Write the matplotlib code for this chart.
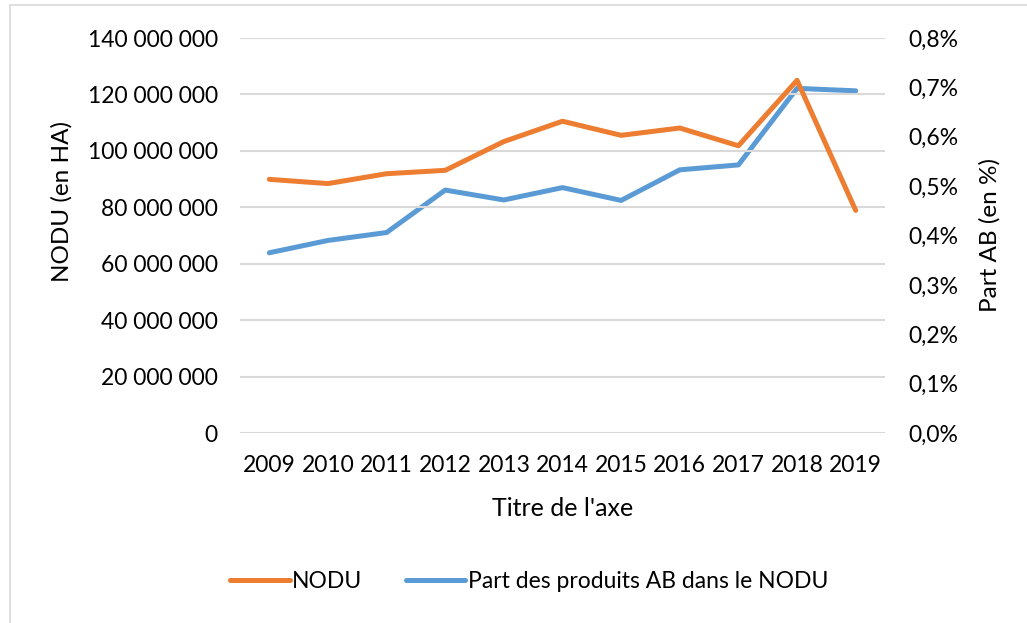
import matplotlib
matplotlib.use("Agg")
import matplotlib.pyplot as plt
from matplotlib.ticker import FuncFormatter, MultipleLocator
from matplotlib.lines import Line2D
from matplotlib.patches import Rectangle

years = ["2009", "2010", "2011", "2012", "2013", "2014", "2015", "2016", "2017", "2018", "2019"]
nodu = [89.9e6, 88.4e6, 91.9e6, 93.1e6, 103.3e6, 110.5e6, 105.5e6, 108.1e6, 101.8e6, 125.0e6, 78.9e6]
part_ab = [0.365, 0.390, 0.406, 0.492, 0.472, 0.497, 0.471, 0.533, 0.543, 0.698, 0.693]

orange = "#ED7D31"
blue = "#5B9BD5"
grid_c = "#D9D9D9"
txt_c = "#000000"

plt.rcParams['font.family'] = ['Lato', 'DejaVu Sans']

W, H = 1027, 623
fig = plt.figure(figsize=(W / 100, H / 100), dpi=100)
ax = fig.add_axes([240 / W, 1 - 433 / H, (885 - 240) / W, (433 - 38) / H])
ax2 = ax.twinx()

x = list(range(len(years)))
ax.plot(x, nodu, color=orange, lw=3.6, solid_capstyle='round', solid_joinstyle='round', zorder=3)
ax2.plot(x, part_ab, color=blue, lw=3.6, solid_capstyle='round', solid_joinstyle='round', zorder=3)
ax.set_zorder(ax2.get_zorder() + 1)
ax.patch.set_visible(False)

ax.set_xlim(-0.5, len(years) - 0.5)
ax.set_ylim(0, 140e6)
ax2.set_ylim(0, 0.8)
ax.yaxis.set_major_locator(MultipleLocator(20e6))
ax2.yaxis.set_major_locator(MultipleLocator(0.1))
ax.yaxis.set_major_formatter(FuncFormatter(lambda v, p: f"{int(round(v)):,}".replace(",", " ")))
ax2.yaxis.set_major_formatter(FuncFormatter(lambda v, p: f"{v:.1f}%".replace(".", ",")))
ax.set_xticks(x)
ax.set_xticklabels(years)

ax.grid(axis='y', color=grid_c, lw=1.5, zorder=0)
ax.set_axisbelow(True)
for a in (ax, ax2):
    for s in a.spines.values():
        s.set_visible(False)
    a.tick_params(length=0, labelsize=16.5, colors=txt_c)
ax.tick_params(axis='y', pad=16)
ax2.tick_params(axis='y', pad=16.5)
ax.tick_params(axis='x', pad=16)

ax.set_ylabel("NODU (en HA)", fontsize=17.5, color=txt_c)
ax2.set_ylabel("Part AB (en %)", fontsize=17.5, color=txt_c, rotation=90)
ax.set_xlabel("Titre de l'axe", fontsize=18, color=txt_c)
ax.yaxis.set_label_coords(62 / W, 1 - 202 / H, transform=fig.transFigure)
ax2.yaxis.set_label_coords(990 / W, 1 - 235 / H, transform=fig.transFigure)
ax.xaxis.set_label_coords(563 / W, 1 - 508 / H, transform=fig.transFigure)
ax.yaxis.label.set_va('center')
ax2.yaxis.label.set_va('center')
ax.xaxis.label.set_va('center')

handles = [Line2D([0], [0], color=orange, lw=3.6, solid_capstyle='round'),
           Line2D([0], [0], color=blue, lw=3.6, solid_capstyle='round')]
fig.legend(handles, ["NODU", "Part des produits AB dans le NODU"], loc='center',
           bbox_to_anchor=(529 / W, 1 - 582 / H), ncol=2, frameon=False, fontsize=16.5,
           handlelength=2.6, handletextpad=0.1, columnspacing=1.9)

fig.patches.append(Rectangle((10 / W, -0.1), 1.2, 1 - 5 / H + 0.1, transform=fig.transFigure,
                             fill=False, edgecolor="#D9D9D9", lw=1.2))

fig.savefig("out.png", dpi=100, facecolor="white")
